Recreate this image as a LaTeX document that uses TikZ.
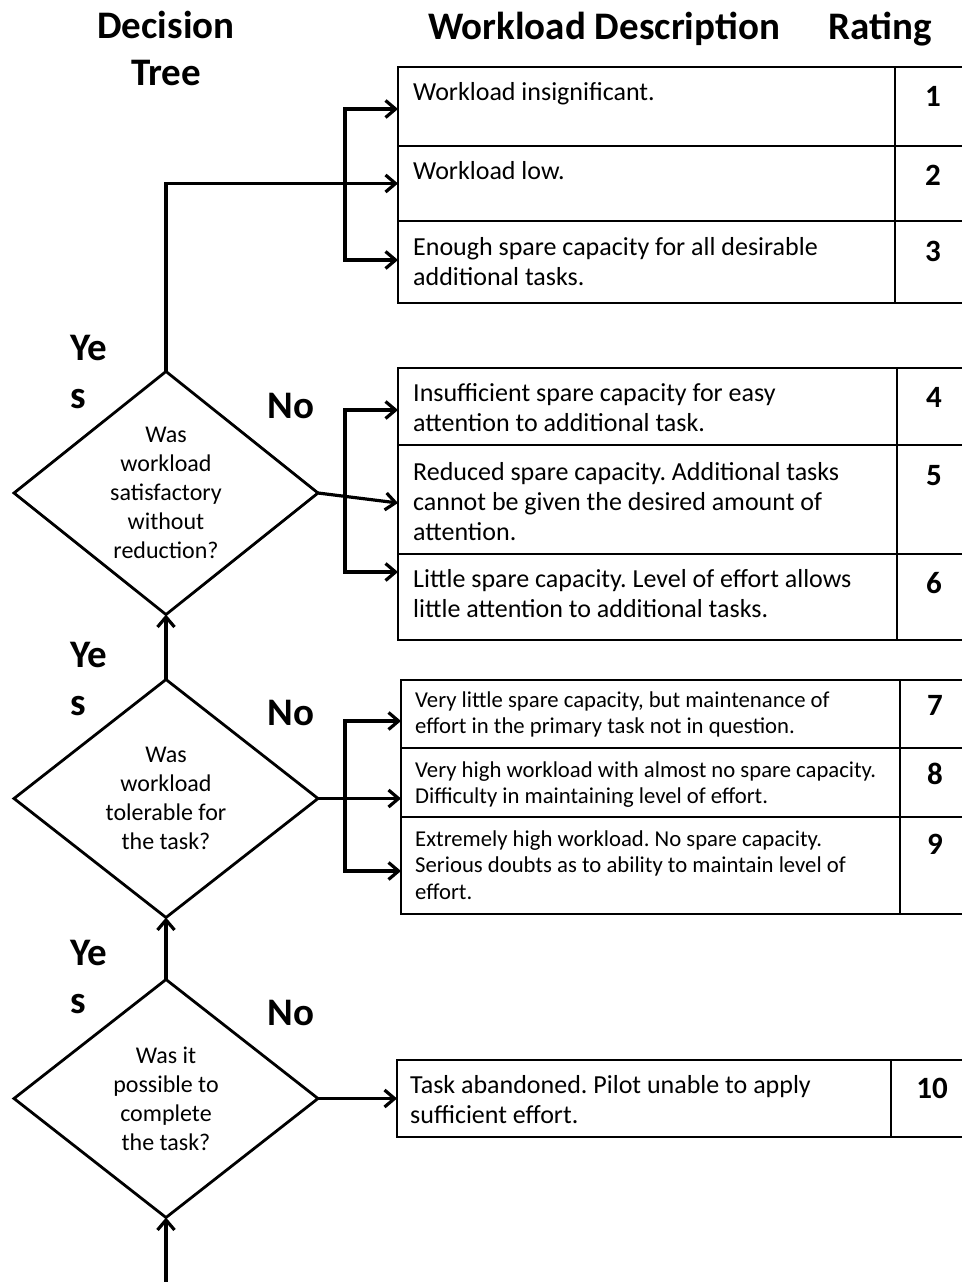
\documentclass[tikz,border=0pt]{standalone}
\usepackage{fontspec}
\setmainfont{Carlito}
\usetikzlibrary{shapes.geometric,arrows.meta}
\frenchspacing
\begin{document}
\begin{tikzpicture}[x=1pt,y=-1pt,
  conn/.style={line width=3.2pt,-{Straight Barb[length=10pt,width=17pt]}},
  bus/.style={line width=3.2pt,{Straight Barb[length=10pt,width=17pt]}-{Straight Barb[length=10pt,width=17pt]}},
  dec/.style={diamond,draw,line width=2.8pt,minimum width=304pt,minimum height=238pt,inner sep=0pt,outer sep=0pt,align=center,font=\fontsize{24}{29}\selectfont},
  rowbox/.style={draw,line width=1.8pt,minimum width=577pt,inner sep=0pt,outer sep=0pt,anchor=north west},
  divl/.style={line width=1.8pt},
  hdr/.style={inner sep=0pt,anchor=base,align=center,font=\fontsize{39}{47}\selectfont\bfseries},
  yn/.style={inner sep=0pt,align=left,font=\fontsize{39}{48}\selectfont\bfseries},
  desc/.style={inner sep=0pt,anchor=base west,align=left,font=\fontsize{26}{30}\selectfont},
  descs/.style={inner sep=0pt,anchor=base west,align=left,font=\fontsize{22.7}{26.5}\selectfont},
  rate/.style={inner sep=0pt,anchor=base,font=\fontsize{31}{34}\selectfont\bfseries}]
\useasboundingbox (0,0) rectangle (961,1282);

% headers (base anchor = baseline of last line)
\node[hdr] (h1) at (166,85) {Decision\\Tree};
\node[hdr] (h2) at (604,39) {Workload Description};
\node[hdr] (h3) at (880,39) {Rating};

% table 1
\node[rowbox,minimum height=79pt] (r1) at (398,67) {};
\node[rowbox,minimum height=75pt] (r2) at (398,146) {};
\node[rowbox,minimum height=82pt] (r3) at (398,221) {};
\draw[divl] (895,67) -- (895,303);
\node[desc] (t1) at (413,100) {Workload insignificant.};
\node[desc] (t2) at (413,179) {Workload low.};
\node[desc] (t3) at (413,285) {Enough spare capacity for all desirable\\additional tasks.};
\node[rate] (n1) at (933,106) {1};
\node[rate] (n2) at (933,185) {2};
\node[rate] (n3) at (933,261) {3};

% table 2
\node[rowbox,minimum height=77pt] (r4) at (398,368) {};
\node[rowbox,minimum height=109pt] (r5) at (398,445) {};
\node[rowbox,minimum height=86pt] (r6) at (398,554) {};
\draw[divl] (897,368) -- (897,640);
\node[desc] (t4) at (413,431) {Insufficient spare capacity for easy\\attention to additional task.};
\node[desc] (t5) at (413,540) {Reduced spare capacity. Additional tasks\\cannot be given the desired amount of\\attention.};
\node[desc] (t6) at (413,617) {Little spare capacity. Level of effort allows\\little attention to additional tasks.};
\node[rate] (n4) at (934,407) {4};
\node[rate] (n5) at (934,485) {5};
\node[rate] (n6) at (934,593) {6};

% table 3
\node[rowbox,minimum height=68pt] (r7) at (401,680) {};
\node[rowbox,minimum height=69pt] (r8) at (401,748) {};
\node[rowbox,minimum height=97pt] (r9) at (401,817) {};
\draw[divl] (900,680) -- (900,914);
\node[descs] (t7) at (415,733.5) {Very little spare capacity, but maintenance of\\effort in the primary task not in question.};
\node[descs] (t8) at (415,803.5) {Very high workload with almost no spare capacity.\\Difficulty in maintaining level of effort.};
\node[descs] (t9) at (415,899) {Extremely high workload. No spare capacity.\\Serious doubts as to ability to maintain level of\\effort.};
\node[rate] (n7) at (935,715) {7};
\node[rate] (n8) at (935,784) {8};
\node[rate] (n9) at (935,854) {9};

% table 4
\node[rowbox,minimum height=77pt] (r10) at (397,1060) {};
\draw[divl] (891,1060) -- (891,1137);
\node[desc] (t10) at (410,1123) {Task abandoned. Pilot unable to apply\\sufficient effort.};
\node[rate] (n10) at (932,1098) {10};

% decisions
\node[dec] (d1) at (166,493) {Was\\workload\\satisfactory\\without\\reduction?};
\node[dec] (d2) at (166,798.5) {Was\\workload\\tolerable for\\the task?};
\node[dec] (d3) at (166,1098.5) {Was it\\possible to\\complete\\the task?};

% yes / no labels
\node[yn,anchor=base west] (y1) at (70,408) {Ye\\s};
\node[yn,anchor=base west] (y2) at (70,715) {Ye\\s};
\node[yn,anchor=base west] (y3) at (70,1013) {Ye\\s};
\node[yn,anchor=base] (no1) at (291,418) {No};
\node[yn,anchor=base] (no2) at (291,725) {No};
\node[yn,anchor=base] (no3) at (291,1025) {No};

% connectors
\coordinate (start) at (166,1282);
\draw[conn] (start) -- (d3.south);
\draw[conn] (d3.north) -- (d2.south);
\draw[conn] (d2.north) -- (d1.south);
\draw[conn] (d1.north) |- (r2.west);

\coordinate (b1t) at (345,109);
\coordinate (b1b) at (345,260);
\draw[bus] (b1t -| r1.west) -- (b1t) -- (b1b) -- (b1b -| r3.west);

\coordinate (b2t) at (345,410);
\coordinate (b2b) at (345,572);
\draw[bus] (b2t -| r4.west) -- (b2t) -- (b2b) -- (b2b -| r6.west);
\coordinate (a5) at (398,503);
\draw[conn] (d1.east) -- (a5);

\coordinate (b3t) at (345,721);
\coordinate (b3b) at (345,871);
\draw[bus] (b3t -| r7.west) -- (b3t) -- (b3b) -- (b3b -| r9.west);
\draw[conn] (d2.east) -- (d2.east -| r8.west);

\draw[conn] (d3.east) -- (d3.east -| r10.west);
\end{tikzpicture}
\end{document}
